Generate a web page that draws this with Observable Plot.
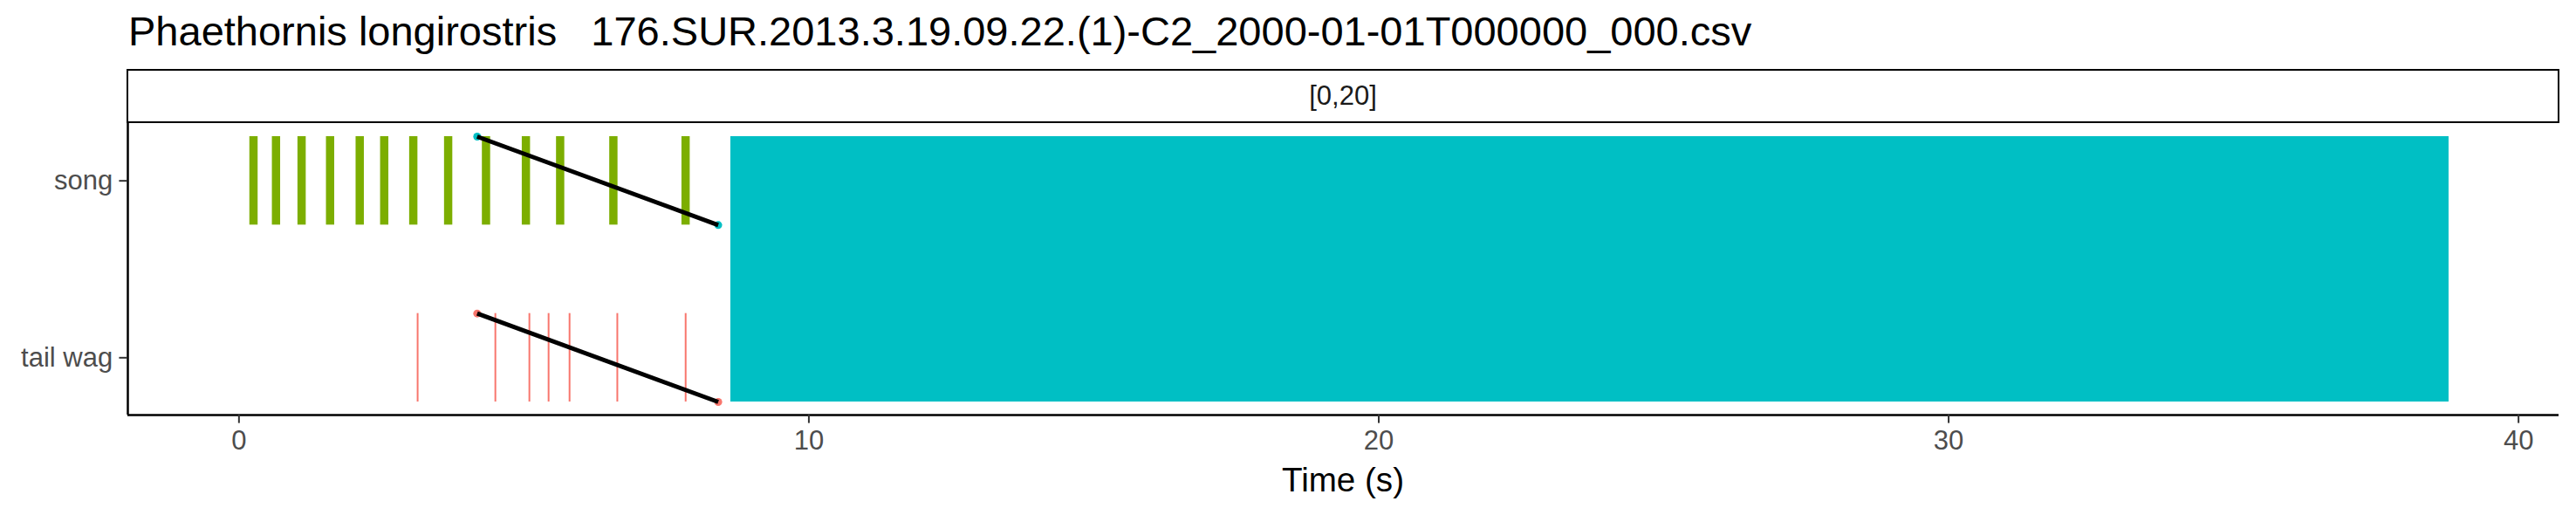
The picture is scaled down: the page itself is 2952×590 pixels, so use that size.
<!DOCTYPE html>
<html>
<head>
<meta charset="utf-8">
<script src="https://cdn.jsdelivr.net/npm/d3@7"></script>
<script src="https://cdn.jsdelivr.net/npm/@observablehq/plot@0.6"></script>
<style>
  html, body { margin: 0; padding: 0; background: #fff; }
  #wrap { position: relative; width: 2952px; height: 590px; overflow: hidden; background: #fff; font-family: "Liberation Sans", Arial, sans-serif; }
  #title { position: absolute; left: 147px; top: 12px; font-size: 47px; line-height: 47px; white-space: pre; color: #000; }
  #strip { position: absolute; z-index: 2; left: 145px; top: 79px; width: 2788px; height: 62px; box-sizing: border-box; border: 2.5px solid #000; background: #fff;
           font-size: 31px; color: #1A1A1A; display: flex; align-items: center; justify-content: center; }
  #xtitle { position: absolute; left: 146px; width: 2786px; top: 531px; font-size: 38.6px; line-height: 38.6px; text-align: center; color: #000; }
  #chart { position: absolute; z-index: 1; left: 0; top: 130px; }
</style>
</head>
<body>
<div id="wrap">
  <div id="title"></div>
  <div id="chart"></div>
  <div id="strip"></div>
  <div id="xtitle"></div>
</div>
<script>
// ---- data ----
const titleText = "Phaethornis longirostris   176.SUR.2013.3.19.09.22.(1)-C2_2000-01-01T000000_000.csv";
const facetLabel = "[0,20]";
const xLabel = "Time (s)";
const categories = ["song", "tail wag"];
const xTicks = [0, 10, 20, 30, 40];
const xDomain = [-1.95, 40.71];

// song notes (s)
const songStart = [0.19, 0.585, 1.034, 1.534, 2.054, 2.484, 2.994, 3.606, 4.27, 4.97, 5.571, 6.505, 7.772];
const songEnd   = [0.335, 0.73, 1.179, 1.679, 2.199, 2.629, 3.139, 3.751, 4.415, 5.115, 5.716, 6.65, 7.917];
// tail wag events (s)
const wagTimes = [3.135, 4.499, 5.096, 5.433, 5.801, 6.639, 7.838];
// long segment
const blockStart = [8.63];
const blockEnd = [38.78];
// diagonal lines per category
const lineStart = [4.18, 4.18];
const lineEnd = [8.41, 8.41];

const colSong = "#7CAE00";
const colBlock = "#00BFC4";
const colWag = "#F8766D";

// ---- build tables ----
const yIdx = c => categories.indexOf(c) + 1;
const half = 0.25;
const songRects = songStart.map((s, i) => ({x1: s, x2: songEnd[i], y1: yIdx("song") - half, y2: yIdx("song") + half}));
const wagRules = wagTimes.map(t => ({x: t, y1: yIdx("tail wag") - half, y2: yIdx("tail wag") + half}));
const blocks = blockStart.map((s, i) => ({x1: s, x2: blockEnd[i], y1: yIdx("song") - half, y2: yIdx("tail wag") + half}));
const diag = categories.map((c, i) => ({x1: lineStart[i], x2: lineEnd[i], y1: yIdx(c) - half, y2: yIdx(c) + half, c}));
const ends = diag.flatMap(d => [{x: d.x1, y: d.y1, c: d.c}, {x: d.x2, y: d.y2, c: d.c}]);
const yDomain = [0.676, 2.324];

document.getElementById("title").textContent = titleText;
document.getElementById("strip").textContent = facetLabel;
document.getElementById("xtitle").textContent = xLabel;

const plot = Plot.plot({
  width: 2952,
  height: 460,
  marginLeft: 146,
  marginRight: 20,
  marginTop: 11,
  marginBottom: 115,
  style: {fontFamily: "Liberation Sans, Arial, sans-serif", background: "transparent"},
  x: {domain: xDomain},
  y: {domain: yDomain, reverse: true},
  marks: [
    Plot.rect(songRects, {x1: "x1", x2: "x2", y1: "y1", y2: "y2", fill: colSong}),
    Plot.ruleX(wagRules, {x: "x", y1: "y1", y2: "y2", stroke: colWag, strokeWidth: 2}),
    Plot.rect(blocks, {x1: "x1", x2: "x2", y1: "y1", y2: "y2", fill: colBlock}),
    Plot.dot(ends, {x: "x", y: "y", r: 4.5, fill: d => d.c === "song" ? colBlock : colWag, stroke: "none"}),
    Plot.link(diag, {x1: "x1", x2: "x2", y1: "y1", y2: "y2", stroke: "#000", strokeWidth: 5}),
    Plot.ruleX([xDomain[0]], {stroke: "#000", strokeWidth: 2.5}),
    Plot.ruleY([yDomain[1]], {stroke: "#000", strokeWidth: 2.5}),
    Plot.axisX({ticks: xTicks, tickSize: 9.6, tickPadding: 7.7, fontSize: 31, color: "#4D4D4D", stroke: "#333", strokeWidth: 2, label: null}),
    Plot.axisY({ticks: [1, 2], tickFormat: d => categories[d - 1], tickSize: 9.6, tickPadding: 7.7, fontSize: 31,
                color: "#4D4D4D", stroke: "#333", strokeWidth: 2, label: null})
  ]
});
document.getElementById("chart").appendChild(plot);
</script>
</body>
</html>
